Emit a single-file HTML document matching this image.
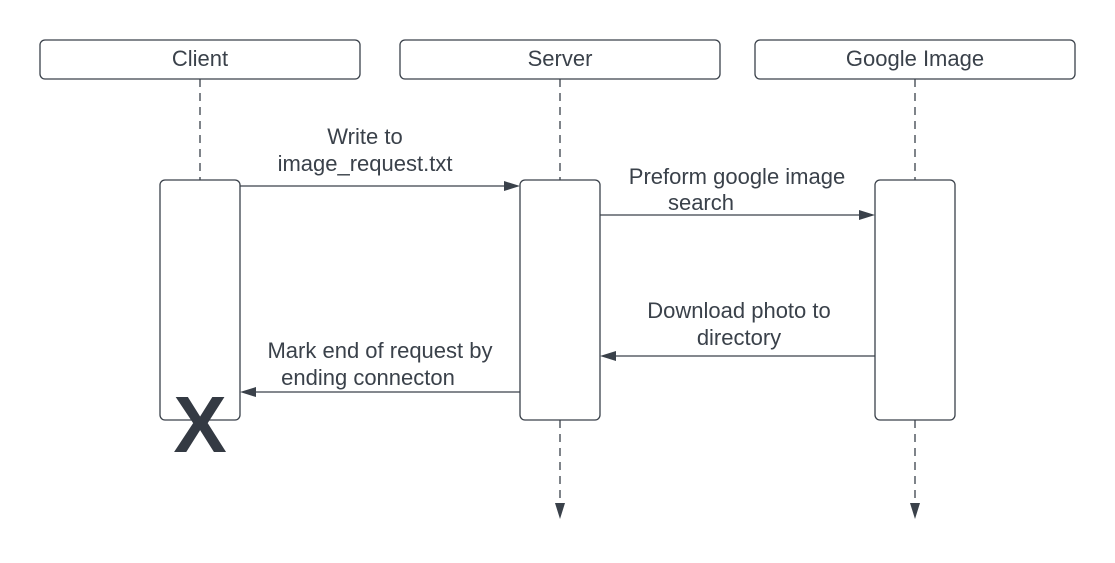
<!DOCTYPE html>
<html><head><style>body{margin:0;background:#fff}</style></head><body>
<svg width="1115" height="558" xmlns="http://www.w3.org/2000/svg" font-family="Liberation Sans, sans-serif" font-size="22" fill="#3a414a">
<rect width="1115" height="558" fill="#fff"/>
<g stroke="#3a414a" stroke-width="1.3" fill="#fff">
<rect x="40" y="40" width="320" height="39" rx="5"/>
<rect x="400" y="40" width="320" height="39" rx="5"/>
<rect x="755" y="40" width="320" height="39" rx="5"/>
</g>
<g stroke="#3a414a" stroke-width="1.3" stroke-dasharray="8,6">
<line x1="200" y1="79" x2="200" y2="180"/>
<line x1="560" y1="79" x2="560" y2="180"/>
<line x1="915" y1="79" x2="915" y2="180"/>
<line x1="560" y1="420" x2="560" y2="505"/>
<line x1="915" y1="420" x2="915" y2="505"/>
</g>
<g fill="#3a414a">
<polygon points="555,503 565,503 560,519"/>
<polygon points="910,503 920,503 915,519"/>
</g>
<g stroke="#3a414a" stroke-width="1.3" fill="#fff">
<rect x="160" y="180" width="80" height="240" rx="5"/>
<rect x="520" y="180" width="80" height="240" rx="5"/>
<rect x="875" y="180" width="80" height="240" rx="5"/>
</g>
<g stroke="#3a414a" stroke-width="1.3">
<line x1="240" y1="186" x2="506" y2="186"/>
<line x1="600" y1="215" x2="861" y2="215"/>
<line x1="875" y1="356" x2="614" y2="356"/>
<line x1="520" y1="392" x2="254" y2="392"/>
</g>
<g fill="#3a414a">
<polygon points="520,186 504,181 504,191"/>
<polygon points="875,215 859,210 859,220"/>
<polygon points="600,356 616,351 616,361"/>
<polygon points="240,392 256,387 256,397"/>
</g>
<g text-anchor="middle">
<text x="200" y="66">Client</text>
<text x="560" y="66">Server</text>
<text x="915" y="66">Google Image</text>
<text x="365" y="144">Write to</text>
<text x="365" y="171">image_request.txt</text>
<text x="737" y="184">Preform google image</text>
<text x="734" y="210" text-anchor="end">search</text>
<text x="739" y="318">Download photo to</text>
<text x="739" y="345">directory</text>
<text x="380" y="358">Mark end of request by</text>
<text x="368" y="385">ending connecton</text>
<text x="200" y="452" font-size="80" font-weight="bold" fill="#343a43">X</text>
</g>
</svg>
</body></html>
